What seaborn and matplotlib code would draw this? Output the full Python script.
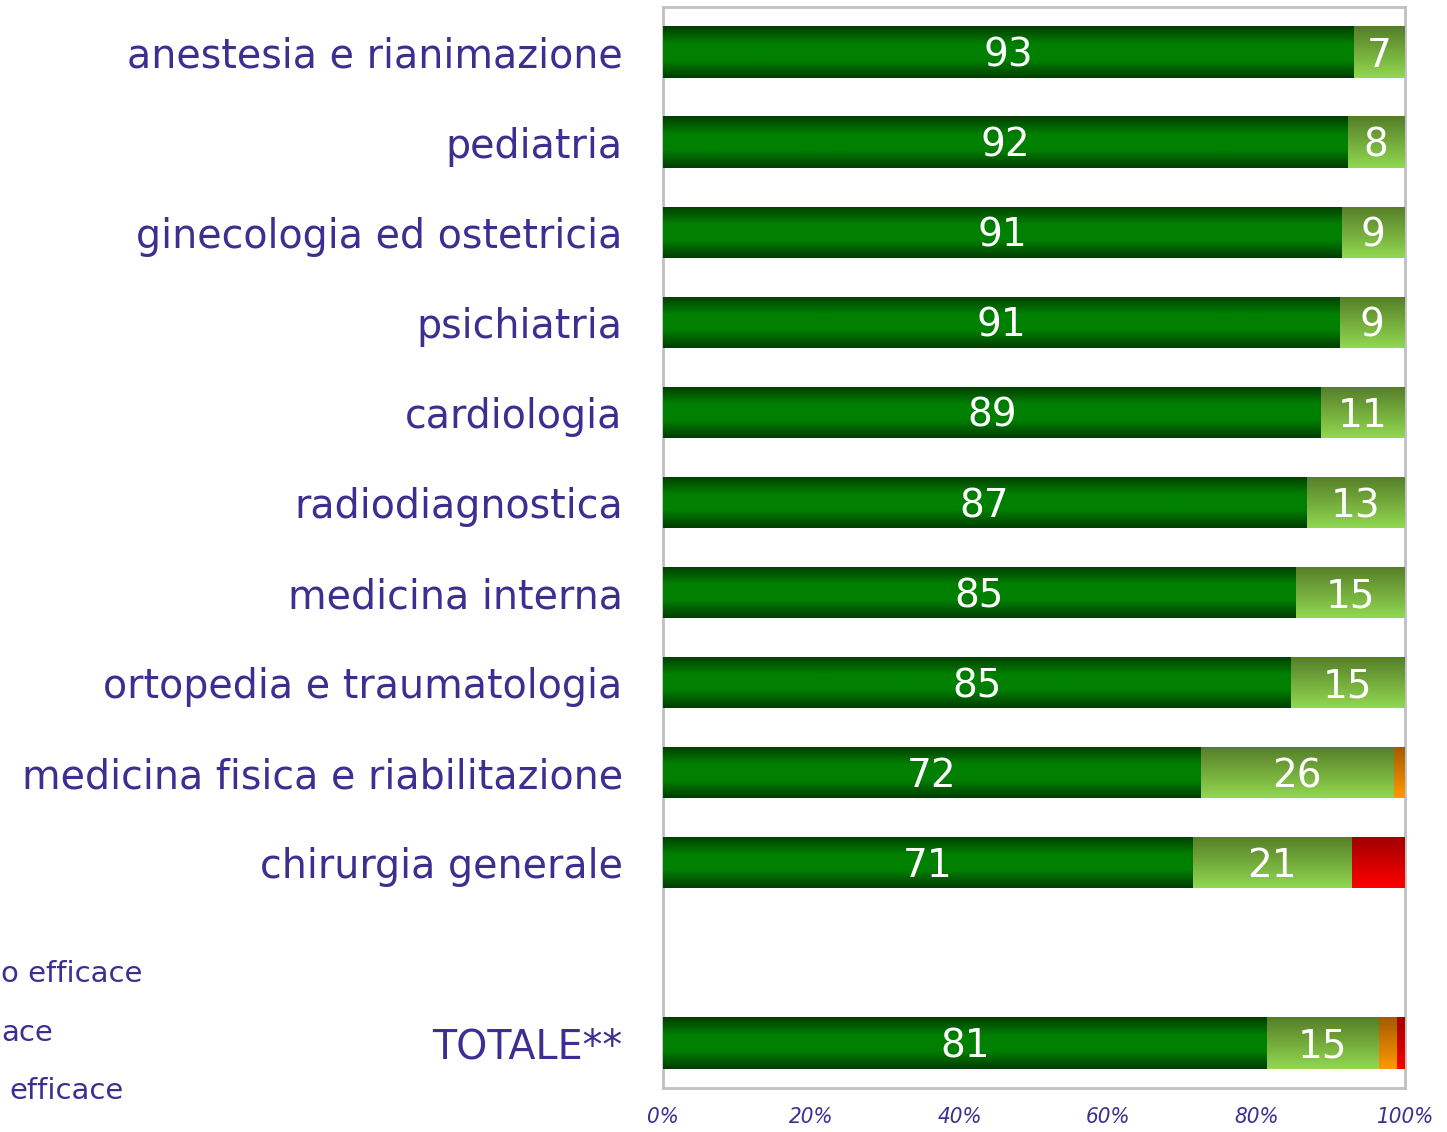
import numpy as np
import pandas as pd
import matplotlib
matplotlib.use("Agg")
import matplotlib.pyplot as plt
from matplotlib.colors import LinearSegmentedColormap
import seaborn as sns

# Data (percent per reparto)
reparti = ['anestesia e rianimazione', 'pediatria', 'ginecologia ed ostetricia', 'psichiatria',
           'cardiologia', 'radiodiagnostica', 'medicina interna', 'ortopedia e traumatologia',
           'medicina fisica e riabilitazione', 'chirurgia generale', 'TOTALE**']
molto = [93.1, 92.2, 91.4, 91.2, 88.6, 86.7, 85.2, 84.6, 72.4, 71.4, 81.4]
abbastanza = [6.9, 7.8, 8.6, 8.8, 11.4, 13.3, 14.8, 15.4, 26.0, 21.4, 15.0]
poco = [0, 0, 0, 0, 0, 0, 0, 0, 1.6, 0, 2.4]
per_nulla = [0, 0, 0, 0, 0, 0, 0, 0, 0, 7.2, 1.2]
order = reparti[:10] + [' '] + reparti[10:]
# legend is cut by the left edge in the original, only these parts show
legend_parts = ['o efficace', 'ace', 'efficace']
xticks = [0, 20, 40, 60, 80, 100]

df = pd.DataFrame({'reparto': reparti, 'molto': molto, 'abbastanza': abbastanza,
                   'poco': poco, 'per_nulla': per_nulla})
df['c1'] = df['molto']
df['c2'] = df['c1'] + df['abbastanza']
df['c3'] = df['c2'] + df['poco']
df['c4'] = df['c3'] + df['per_nulla']

purple = '#3d2f91'
font = 'DejaVu Sans'

cm_dark = LinearSegmentedColormap.from_list('dk', [(0, '#003c00'), (0.35, '#008000'),
                                                   (0.65, '#008000'), (1, '#003c00')])
cm_light = LinearSegmentedColormap.from_list('lt', ['#557d28', '#92d850'])
cm_orange = LinearSegmentedColormap.from_list('or', ['#a55a00', '#ff9900'])
cm_red = LinearSegmentedColormap.from_list('rd', ['#a00000', '#ff0000'])

sns.set_theme(style='white')
plt.rcParams['font.family'] = [font]

fig = plt.figure(figsize=(14.47, 11.32), dpi=100)
ax = fig.add_axes([663 / 1447, 1 - 1088 / 1132, 742 / 1447, 1081 / 1132])

grad = np.linspace(0, 1, 256).reshape(-1, 1)
layers = [('c4', cm_red), ('c3', cm_orange), ('c2', cm_light), ('c1', cm_dark)]
for z, (col, cmap) in enumerate(layers):
    n0 = len(ax.patches)
    sns.barplot(data=df, x=col, y='reparto', order=order, color=cmap(0.5), width=0.57,
                errorbar=None, linewidth=0, ax=ax)
    for p in ax.patches[n0:]:
        p.set_zorder(2 + 2 * z)
        x0, y0, w, h = p.get_x(), p.get_y(), p.get_width(), p.get_height()
        if w <= 0:
            continue
        im = ax.imshow(grad, cmap=cmap, aspect='auto', extent=[x0, x0 + w, y0 + h, y0],
                       origin='upper', zorder=3 + 2 * z, interpolation='bilinear')
        im.set_clip_path(p)

# value labels
for _, r in df.iterrows():
    i = order.index(r['reparto']) + 0.04
    ax.text(r['molto'] / 2, i, f"{round(r['molto'])}", ha='center', va='center',
            color='white', fontsize=28, zorder=20)
    ax.text(r['molto'] + r['abbastanza'] / 2, i, f"{round(r['abbastanza'])}", ha='center',
            va='center', color='white', fontsize=28, zorder=20)

ax.set_xlim(0, 100)
ax.set_ylim(len(order) - 0.5, -0.5)
ax.set_xlabel('')
ax.set_ylabel('')
ax.set_xticks(xticks)
ax.set_xticklabels([f'{t}%' for t in xticks], fontsize=16, style='italic',
                   fontstretch='condensed', color=purple)
ax.set_yticks(range(len(order)))
ax.set_yticklabels(order, fontsize=28.5, color=purple)
ax.tick_params(axis='x', length=0, pad=14)
ax.tick_params(axis='y', length=0, pad=29)
for s in ax.spines.values():
    s.set_color('#c0c0c0')
    s.set_linewidth(2)
    s.set_visible(True)

for lab, xs, ye in zip(legend_parts, [1, 1, 9], [974, 1033, 1091]):
    fig.text(xs / 1447, 1 - ye / 1132, lab, ha='left', va='center', fontsize=21, color=purple)

fig.savefig('out.png', dpi=100)
